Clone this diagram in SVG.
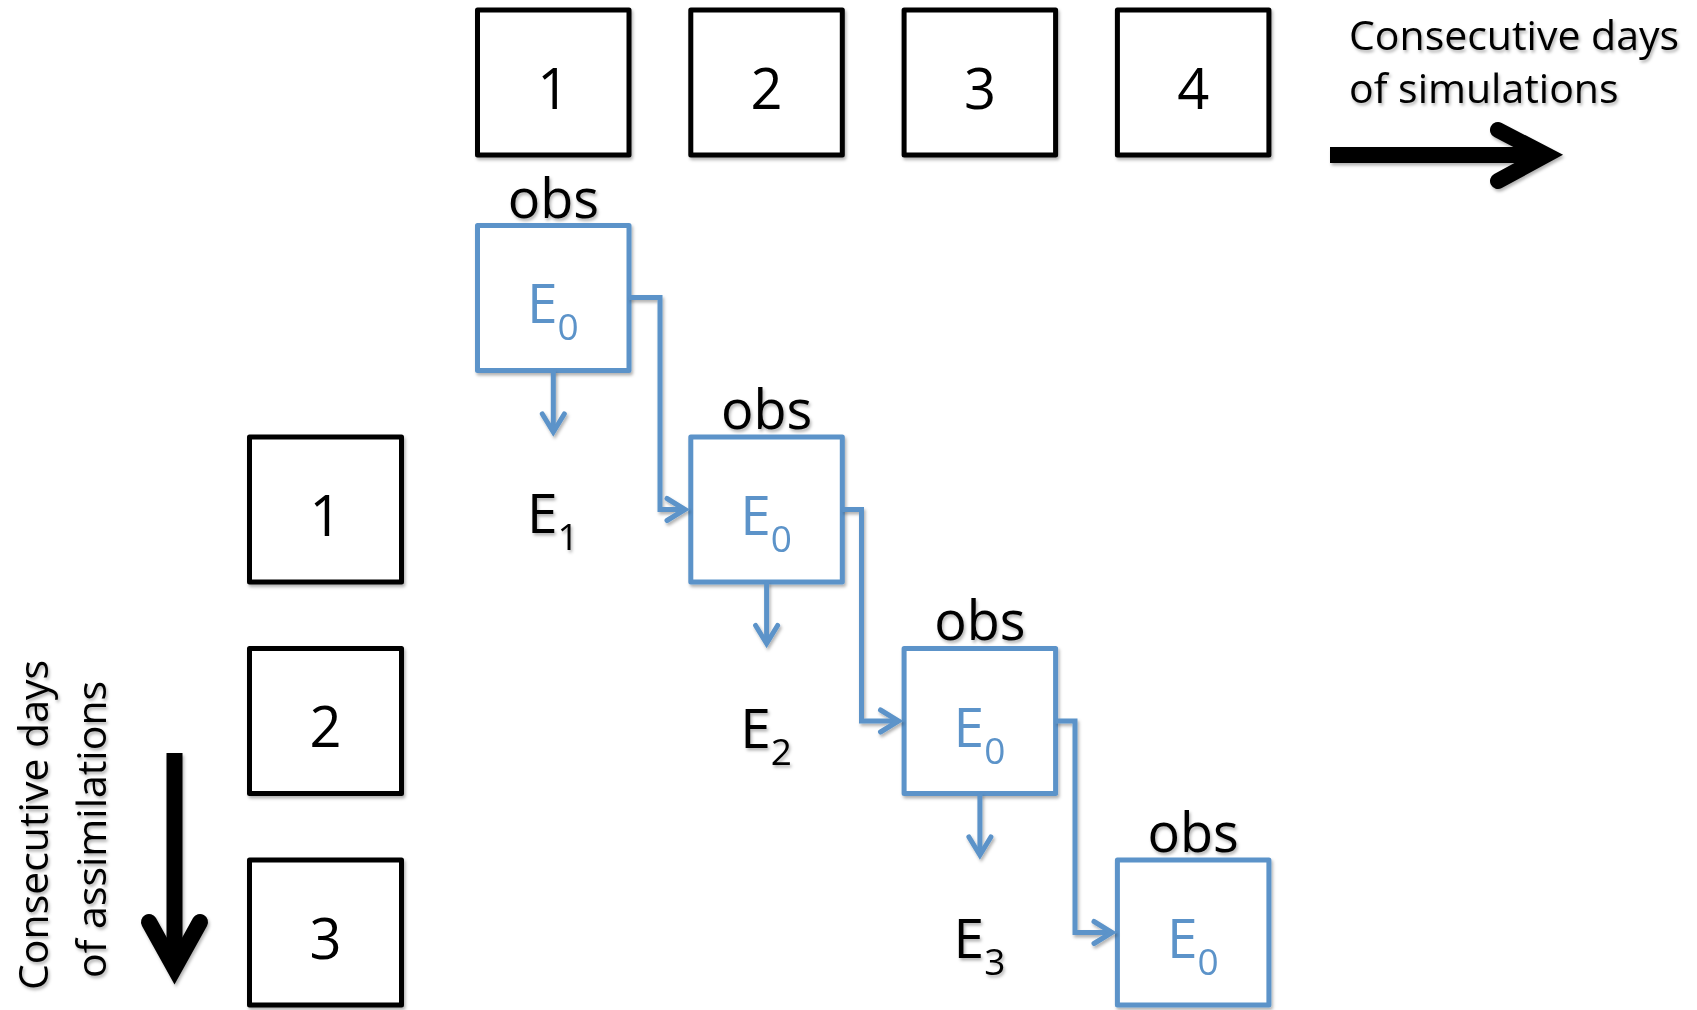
<svg xmlns="http://www.w3.org/2000/svg" width="1697" height="1010" viewBox="0 0 1697 1010">
  <defs>
    <style>
      .txt { font-family: "Open Sans", "Liberation Sans", sans-serif; fill: #000; }
      .num { font-size: 56px; text-anchor: middle; }
      .obs { font-size: 54px; text-anchor: middle; }
      .lab { font-size: 41px; }
      .ens { font-size: 55px; }
      .sub { font-size: 37px; }
      .blue-txt { fill: #5b93c9; }
      .day { fill: #fff; stroke: #000; stroke-width: 5; stroke-linejoin: round; }
      .ens-box { fill: #fff; stroke: #5b93c9; stroke-width: 5; stroke-linejoin: round; }
      .link { fill: none; stroke: #5b93c9; stroke-width: 5; stroke-linejoin: miter; }
      .big { fill: none; stroke: #000; stroke-width: 16; }
    </style>
    <filter id="shadow" x="-10%" y="-10%" width="130%" height="130%">
      <feDropShadow dx="1.5" dy="2.5" stdDeviation="1.6" flood-color="#000" flood-opacity="0.3"/>
    </filter>
    <marker id="chev" markerUnits="userSpaceOnUse" viewBox="-24 -16 30 32" refX="0" refY="0" markerWidth="30" markerHeight="32" orient="auto" overflow="visible">
      <path d="M-18,-11 L0,0 L-18,11" fill="none" stroke="#5b93c9" stroke-width="5" stroke-linecap="round" stroke-linejoin="miter"/>
    </marker>
  </defs>
  <rect width="1697" height="1010" fill="#fff"/>

  <!-- simulation days (top row) -->
  <g id="sim-day-1" filter="url(#shadow)">
    <rect class="day" x="477.5" y="10" width="151.5" height="145"/>
    <text class="txt num" x="553.3" y="108.5">1</text>
  </g>
  <g id="sim-day-2" filter="url(#shadow)">
    <rect class="day" x="690.8" y="10" width="151.5" height="145"/>
    <text class="txt num" x="766.6" y="108.5">2</text>
  </g>
  <g id="sim-day-3" filter="url(#shadow)">
    <rect class="day" x="904.1" y="10" width="151.5" height="145"/>
    <text class="txt num" x="979.9" y="108.5">3</text>
  </g>
  <g id="sim-day-4" filter="url(#shadow)">
    <rect class="day" x="1117.4" y="10" width="151.5" height="145"/>
    <text class="txt num" x="1193.2" y="108.5">4</text>
  </g>

  <!-- assimilation days (left column) -->
  <g id="assim-day-1" filter="url(#shadow)">
    <rect class="day" x="249.5" y="437" width="152" height="145"/>
    <text class="txt num" x="325.5" y="535.5">1</text>
  </g>
  <g id="assim-day-2" filter="url(#shadow)">
    <rect class="day" x="249.5" y="648.5" width="152" height="145"/>
    <text class="txt num" x="325.5" y="747">2</text>
  </g>
  <g id="assim-day-3" filter="url(#shadow)">
    <rect class="day" x="249.5" y="860" width="152" height="145"/>
    <text class="txt num" x="325.5" y="958.5">3</text>
  </g>

  <!-- axis labels and arrows -->
  <g id="axis-sim" filter="url(#shadow)">
    <text class="txt lab" x="1349" y="50">Consecutive days</text>
    <text class="txt lab" x="1349" y="103">of simulations</text>
    <path class="big" d="M1330,155 H1546"/>
    <path class="big" d="M1498,130 L1546,155 L1498,181" stroke-linecap="round" stroke-linejoin="miter"/>
  </g>
  <g id="axis-assim" filter="url(#shadow)">
    <text class="txt lab" transform="translate(48,990) rotate(-90)">Consecutive days</text>
    <text class="txt lab" transform="translate(106,978) rotate(-90)">of assimilations</text>
    <path class="big" d="M174.5,753 V968"/>
    <path class="big" d="M149,922 L174.5,968 L200,922" stroke-linecap="round" stroke-linejoin="miter"/>
  </g>

  <!-- ensemble analysis boxes -->
  <g id="ens-1" filter="url(#shadow)">
    <text class="txt obs" x="553.3" y="217.5">obs</text>
    <rect class="ens-box" x="477.5" y="225.5" width="151.5" height="145"/>
    <text class="txt ens blue-txt" x="527" y="323.3">E<tspan class="sub" dy="17">0</tspan></text>
  </g>
  <g id="ens-2" filter="url(#shadow)">
    <text class="txt obs" x="766.6" y="429">obs</text>
    <rect class="ens-box" x="690.8" y="437" width="151.5" height="145"/>
    <text class="txt ens blue-txt" x="740.3" y="535">E<tspan class="sub" dy="17">0</tspan></text>
  </g>
  <g id="ens-3" filter="url(#shadow)">
    <text class="txt obs" x="979.9" y="640">obs</text>
    <rect class="ens-box" x="904.1" y="648.5" width="151.5" height="145"/>
    <text class="txt ens blue-txt" x="953.6" y="746.5">E<tspan class="sub" dy="17">0</tspan></text>
  </g>
  <g id="ens-4" filter="url(#shadow)">
    <text class="txt obs" x="1193.2" y="852">obs</text>
    <rect class="ens-box" x="1117.4" y="860" width="151.5" height="145"/>
    <text class="txt ens blue-txt" x="1166.9" y="958">E<tspan class="sub" dy="17">0</tspan></text>
  </g>

  <!-- forecast ensembles -->
  <g id="fc-1" filter="url(#shadow)">
    <text class="txt ens" x="527" y="533.3">E<tspan class="sub" dy="17">1</tspan></text>
  </g>
  <g id="fc-2" filter="url(#shadow)">
    <text class="txt ens" x="740.3" y="747.5">E<tspan class="sub" dy="17">2</tspan></text>
  </g>
  <g id="fc-3" filter="url(#shadow)">
    <text class="txt ens" x="953.6" y="958.3">E<tspan class="sub" dy="17">3</tspan></text>
  </g>

  <!-- connectors -->
  <g id="connectors" filter="url(#shadow)">
    <path class="link" d="M553.3,370.5 V432" marker-end="url(#chev)"/>
    <path class="link" d="M766.6,582 V643.5" marker-end="url(#chev)"/>
    <path class="link" d="M979.9,793.5 V855" marker-end="url(#chev)"/>
    <path class="link" d="M629,297.5 H660 V509.5 H685" marker-end="url(#chev)"/>
    <path class="link" d="M842.3,509.5 H861.5 V721 H898.5" marker-end="url(#chev)"/>
    <path class="link" d="M1055.6,721 H1075 V932.5 H1112" marker-end="url(#chev)"/>
  </g>
</svg>
